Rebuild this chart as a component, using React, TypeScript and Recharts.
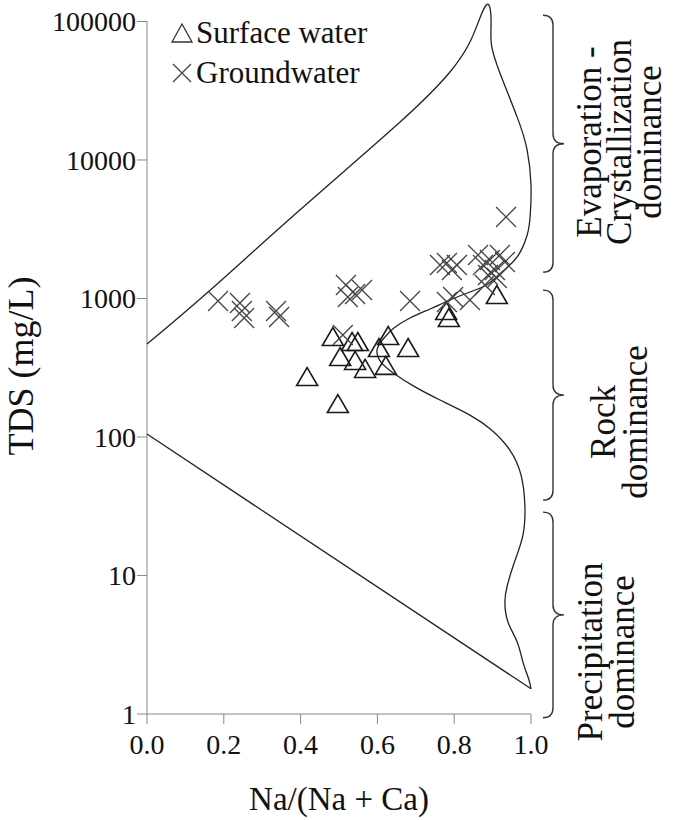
import React from 'react'
import {
  ComposedChart,
  Line,
  Scatter,
  XAxis,
  YAxis,
  ReferenceLine,
  Legend,
} from 'recharts'

const xTicks = [0, 0.2, 0.4, 0.6, 0.8, 1.0]
const yTicks = [1, 10, 100, 1000, 10000, 100000]

const surfaceWater = [
  { x: 0.417, y: 271 },
  { x: 0.484, y: 527 },
  { x: 0.503, y: 378 },
  { x: 0.534, y: 485 },
  { x: 0.549, y: 485 },
  { x: 0.542, y: 354 },
  { x: 0.568, y: 310 },
  { x: 0.604, y: 439 },
  { x: 0.628, y: 536 },
  { x: 0.622, y: 326 },
  { x: 0.68, y: 439 },
  { x: 0.497, y: 173 },
  { x: 0.779, y: 812 },
  { x: 0.786, y: 723 },
  { x: 0.911, y: 1060 },
]

const groundwater = [
  { x: 0.185, y: 960 },
  { x: 0.242, y: 928 },
  { x: 0.247, y: 812 },
  { x: 0.253, y: 723 },
  { x: 0.336, y: 812 },
  { x: 0.344, y: 735 },
  { x: 0.518, y: 1251 },
  { x: 0.523, y: 1025 },
  { x: 0.542, y: 1077 },
  { x: 0.56, y: 1152 },
  { x: 0.51, y: 545 },
  { x: 0.685, y: 960 },
  { x: 0.935, y: 3877 },
  { x: 0.763, y: 1746 },
  { x: 0.781, y: 1804 },
  { x: 0.794, y: 1606 },
  { x: 0.807, y: 1746 },
  { x: 0.797, y: 1025 },
  { x: 0.781, y: 944 },
  { x: 0.875, y: 1746 },
  { x: 0.893, y: 1897 },
  { x: 0.906, y: 1606 },
  { x: 0.919, y: 2061 },
  { x: 0.888, y: 1479 },
  { x: 0.911, y: 1406 },
  { x: 0.932, y: 1835 },
  { x: 0.862, y: 2061 },
  { x: 0.88, y: 1251 },
  { x: 0.841, y: 975 },
]

// Gibbs boundary: upper line, over the top, down the right side to the tip
const gibbsBoundary = [
  { x: 0, y: 469 },
  { x: 0.159, y: 1114 },
  { x: 0.398, y: 4355 },
  { x: 0.659, y: 18800 },
  { x: 0.789, y: 43200 },
  { x: 0.841, y: 71100 },
  { x: 0.867, y: 106000 },
  { x: 0.883, y: 131000 },
  { x: 0.893, y: 126000 },
  { x: 0.896, y: 95000 },
  { x: 0.897, y: 67700 },
  { x: 0.919, y: 42500 },
  { x: 0.964, y: 20400 },
  { x: 0.99, y: 11800 },
  { x: 1.0, y: 6600 },
  { x: 0.998, y: 4010 },
  { x: 0.99, y: 2872 },
  { x: 0.964, y: 1994 },
  { x: 0.927, y: 1580 },
  { x: 0.888, y: 1273 },
  { x: 0.841, y: 1114 },
  { x: 0.789, y: 975 },
  { x: 0.737, y: 840 },
  { x: 0.685, y: 723 },
  { x: 0.643, y: 612 },
  { x: 0.615, y: 510 },
  { x: 0.599, y: 425 },
  { x: 0.609, y: 348 },
  { x: 0.641, y: 290 },
  { x: 0.698, y: 230 },
  { x: 0.763, y: 185 },
  { x: 0.841, y: 144 },
  { x: 0.898, y: 112 },
  { x: 0.945, y: 80.5 },
  { x: 0.974, y: 53.2 },
  { x: 0.984, y: 32.3 },
  { x: 0.979, y: 19.6 },
  { x: 0.956, y: 12.3 },
  { x: 0.938, y: 8.4 },
  { x: 0.932, y: 6.44 },
  { x: 0.94, y: 4.62 },
  { x: 0.964, y: 3.31 },
  { x: 0.979, y: 2.37 },
  { x: 0.994, y: 1.79 },
  { x: 1.0, y: 1.52 },
]

const gibbsLower = [
  { x: 1.0, y: 1.52 },
  { x: 0, y: 105 },
]

const zones = [
  { lines: ['Evaporation -', 'Crystallization', 'dominance'], top: 111000, bottom: 1550 },
  { lines: ['Rock', 'dominance'], top: 1150, bottom: 35 },
  { lines: ['Precipitation', 'dominance'], top: 28.7, bottom: 0.94 },
]

// text placement of the zone labels (centre y, first baseline x, line gap)
const zoneText = [
  { mid: 142, base: 601, gap: 30 },
  { mid: 422, base: 615, gap: 32 },
  { mid: 652, base: 602, gap: 32 },
]

const FONT = '"Liberation Serif", "Times New Roman", serif'
const W = 673
const H = 820
const PLOT_TOP = 3
const PLOT_BOTTOM = 714
const Y_MAX = 136000

const yPx = (v: number) =>
  PLOT_TOP + ((Math.log10(Y_MAX) - Math.log10(v)) / Math.log10(Y_MAX)) * (PLOT_BOTTOM - PLOT_TOP)

const Triangle = (props: any) => {
  const { cx, cy } = props
  if (cx == null || cy == null) return null
  return (
    <path
      d={`M${cx},${cy - 9.5}L${cx + 10.5},${cy + 8.5}L${cx - 10.5},${cy + 8.5}Z`}
      fill="none"
      stroke="#1a1a1a"
      strokeWidth={1.6}
    />
  )
}

const Cross = (props: any) => {
  const { cx, cy } = props
  if (cx == null || cy == null) return null
  const r = 10
  return (
    <path
      d={`M${cx - r},${cy - r}L${cx + r},${cy + r}M${cx - r},${cy + r}L${cx + r},${cy - r}`}
      stroke="#444"
      strokeWidth={1.3}
      fill="none"
    />
  )
}

const renderLegend = () => (
  <div style={{ fontFamily: FONT, fontSize: 31, color: '#111', lineHeight: '40px' }}>
    <div style={{ display: 'flex', alignItems: 'center' }}>
      <svg width={24} height={24} style={{ marginRight: 2 }}>
        <path d="M12,3L22,21L2,21Z" fill="none" stroke="#333" strokeWidth={1.3} />
      </svg>
      Surface water
    </div>
    <div style={{ display: 'flex', alignItems: 'center' }}>
      <svg width={24} height={24} style={{ marginRight: 2 }}>
        <path d="M3,3L21,21M3,21L21,3" stroke="#444" strokeWidth={1.3} />
      </svg>
      Groundwater
    </div>
  </div>
)

const Brace = ({ top, bottom }: { top: number; bottom: number }) => {
  const tip = 543
  const stem = 553
  const mid = 564
  const r = 10
  const m = (top + bottom) / 2
  const d = `M${tip},${top} Q${stem},${top} ${stem},${top + r} L${stem},${m - r} Q${stem},${m} ${mid},${m} Q${stem},${m} ${stem},${m + r} L${stem},${bottom - r} Q${stem},${bottom} ${tip},${bottom}`
  return <path d={d} fill="none" stroke="#333" strokeWidth={1.4} />
}

export default function App() {
  return (
    <div
      style={{
        position: 'absolute',
        left: 0,
        top: 0,
        width: W,
        height: H,
        background: '#fff',
        fontFamily: FONT,
      }}
    >
      <ComposedChart
        width={W}
        height={H}
        margin={{ top: PLOT_TOP, right: 142, bottom: 46, left: 87 }}
        style={{ fontFamily: FONT }}
      >
        <XAxis
          dataKey="x"
          type="number"
          domain={[0, 1]}
          ticks={xTicks}
          tickFormatter={(v: number) => v.toFixed(1)}
          tick={{ fontSize: 28, fill: '#111', fontFamily: FONT }}
          tickSize={10}
          tickMargin={10}
          stroke="#888"
          height={60}
          label={{
            value: 'Na/(Na + Ca)',
            position: 'bottom',
            offset: 13,
            style: { fontSize: 33, fill: '#111', fontFamily: FONT },
          }}
        />
        <YAxis
          dataKey="y"
          type="number"
          scale="log"
          domain={[1, Y_MAX]}
          ticks={yTicks}
          tick={{ fontSize: 28, fill: '#111', fontFamily: FONT }}
          tickSize={10}
          tickMargin={1}
          axisLine={false}
          stroke="#888"
          width={60}
        />
        <ReferenceLine
          segment={[
            { x: 0, y: 1 },
            { x: 0, y: 100000 },
          ]}
          stroke="#888"
          strokeWidth={1}
        />
        <Legend
          layout="vertical"
          align="center"
          verticalAlign="middle"
          content={renderLegend}
          wrapperStyle={{ left: 170, top: 13, width: 260 }}
        />
        <Line
          data={gibbsBoundary}
          dataKey="y"
          type="natural"
          stroke="#222"
          strokeWidth={1.3}
          dot={false}
          legendType="none"
          isAnimationActive={false}
        />
        <Line
          data={gibbsLower}
          dataKey="y"
          type="linear"
          stroke="#222"
          strokeWidth={1.3}
          dot={false}
          legendType="none"
          isAnimationActive={false}
        />
        <Scatter
          name="Surface water"
          data={surfaceWater}
          dataKey="y"
          shape={Triangle}
          isAnimationActive={false}
        />
        <Scatter
          name="Groundwater"
          data={groundwater}
          dataKey="y"
          shape={Cross}
          isAnimationActive={false}
        />
      </ComposedChart>
      <svg
        width={W}
        height={H}
        style={{ position: 'absolute', left: 0, top: 0, pointerEvents: 'none', fontFamily: FONT }}
      >
        <text
          x={21}
          y={366}
          transform="rotate(-90 21 366)"
          textAnchor="middle"
          dominantBaseline="central"
          fontSize={36}
          fill="#111"
        >
          TDS (mg/L)
        </text>
        {zones.map((z, i) => {
          const top = yPx(z.top)
          const bottom = yPx(z.bottom)
          const { mid: cy, base: cx, gap } = zoneText[i]
          return (
            <g key={i}>
              <Brace top={top} bottom={bottom} />
              <text
                transform={`rotate(-90 ${cx} ${cy})`}
                x={cx}
                y={cy}
                textAnchor="middle"
                fontSize={35}
                fill="#111"
              >
                {z.lines.map((t, j) => (
                  <tspan key={j} x={cx} y={cy + j * gap}>
                    {t}
                  </tspan>
                ))}
              </text>
            </g>
          )
        })}
      </svg>
    </div>
  )
}
